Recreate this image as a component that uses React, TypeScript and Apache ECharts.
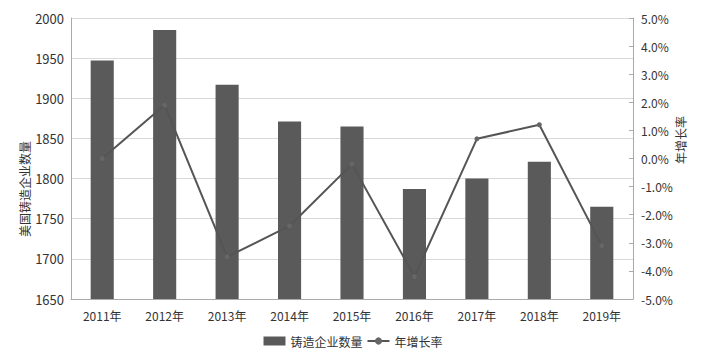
import React, { useEffect, useRef } from "react";
import * as echarts from "echarts";

const categories = ["2011年", "2012年", "2013年", "2014年", "2015年", "2016年", "2017年", "2018年", "2019年"];
const enterpriseCounts = [1947, 1985, 1917, 1871, 1865, 1787, 1800, 1821, 1765];
const growthRates = [0.0, 1.9, -3.5, -2.4, -0.2, -4.2, 0.7, 1.2, -3.1];
const barName = "铸造企业数量";
const lineName = "年增长率";
const leftAxisName = "美国铸造企业数量";
const rightAxisName = "年增长率";

const FONT = "'Noto Sans CJK SC', 'Noto Sans', sans-serif";

export default function App() {
  const ref = useRef<HTMLDivElement>(null);
  useEffect(() => {
    if (!ref.current) return;
    const chart = echarts.init(ref.current, null, { renderer: "svg" });
    chart.setOption({
      animation: false,
      textStyle: { fontFamily: FONT },
      grid: { left: 71, right: 73, top: 18, bottom: 58 },
      legend: {
        bottom: 5,
        left: "center",
        itemGap: 4,
        itemWidth: 22,
        itemHeight: 9,
        textStyle: { fontSize: 12, color: "#333", fontFamily: FONT },
        data: [
          { name: barName, icon: "rect" },
          { name: lineName },
        ],
      },
      graphic: [
        {
          type: "text",
          x: 24,
          y: 189,
          rotation: Math.PI / 2,
          style: {
            text: leftAxisName,
            fontSize: 12,
            fontFamily: FONT,
            fill: "#333",
            textAlign: "center",
            textVerticalAlign: "middle",
          },
        },
        {
          type: "text",
          x: 680,
          y: 140,
          rotation: Math.PI / 2,
          style: {
            text: rightAxisName,
            fontSize: 12,
            fontFamily: FONT,
            fill: "#333",
            textAlign: "center",
            textVerticalAlign: "middle",
          },
        },
      ],
      xAxis: {
        type: "category",
        data: categories,
        boundaryGap: true,
        axisLine: { onZero: false, lineStyle: { color: "#aaa" } },
        axisTick: { inside: true, length: 4, lineStyle: { color: "#ccc" } },
        axisLabel: { fontSize: 12, color: "#333", margin: 10, fontFamily: FONT },
      },
      yAxis: [
        {
          type: "value",
          min: 1650,
          max: 2000,
          interval: 50,
          axisLine: { show: true, lineStyle: { color: "#aaa" } },
          axisTick: { show: false },
          axisLabel: {
            fontSize: 13,
            color: "#333",
            margin: 7,
            fontFamily: FONT,
            formatter: (v: number) => String(v),
          },
          splitLine: { lineStyle: { color: "#d9d9d9" } },
        },
        {
          type: "value",
          min: -5,
          max: 5,
          interval: 1,
          axisLine: { show: true, lineStyle: { color: "#aaa" } },
          axisTick: { show: true, inside: true, length: 4, lineStyle: { color: "#aaa" } },
          axisLabel: {
            fontSize: 12,
            color: "#333",
            margin: 8,
            fontFamily: FONT,
            formatter: (v: number) => v.toFixed(1) + "%",
          },
          splitLine: { show: false },
        },
      ],
      series: [
        {
          name: barName,
          type: "bar",
          data: enterpriseCounts,
          barWidth: "37%",
          itemStyle: { color: "#5a5a5a" },
        },
        {
          name: lineName,
          type: "line",
          yAxisIndex: 1,
          data: growthRates,
          symbol: "circle",
          symbolSize: 5,
          lineStyle: { color: "#555", width: 2 },
          itemStyle: { color: "#666" },
        },
      ],
    });
    return () => chart.dispose();
  }, []);
  return (
    <div
      ref={ref}
      style={{ position: "absolute", left: 0, top: 0, width: 706, height: 357 }}
    />
  );
}
